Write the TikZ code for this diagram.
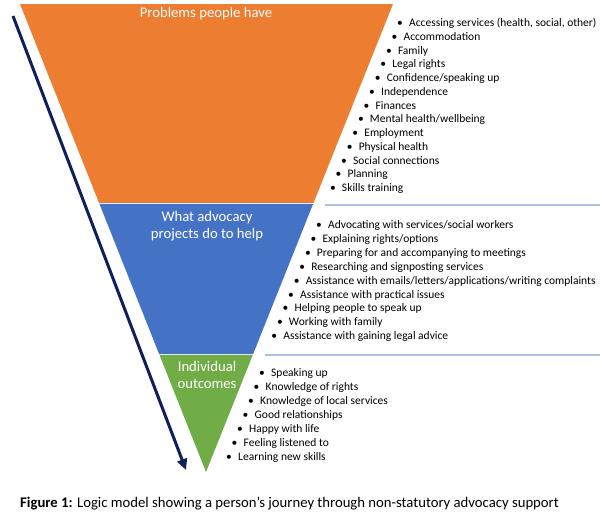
\documentclass[tikz,border=0pt]{standalone}
\usepackage{fontspec}
\setmainfont{Carlito}
\usetikzlibrary{calc,arrows.meta}
\definecolor{cOrange}{HTML}{ED7D31}
\definecolor{cBlue}{HTML}{4472C4}
\definecolor{cGreen}{HTML}{70AD47}
\definecolor{cNavy}{HTML}{0E1F5B}
\definecolor{cRule}{HTML}{A9C1E8}
\tikzset{
  seg/.style={draw=white!85!cBlue, line width=0.8pt},
  ttl/.style={text=white, font=\fontsize{14.7}{17}\selectfont, align=center, inner sep=0pt},
  item/.style={anchor=base west, inner sep=0pt, font=\fontsize{11.5}{13}\selectfont},
  sep/.style={draw=cRule, line width=1.2pt},
}
\newcommand{\bul}[1]{\makebox[12pt][l]{•}#1}
\begin{document}
\begin{tikzpicture}[x=1pt,y=-1pt]
\useasboundingbox (0,0) rectangle (602,515);
\coordinate (TL) at (20,4);
\coordinate (TR) at (393,4);
\coordinate (AP) at (206,472);
\coordinate (L1) at ($(TL)!0.425!(AP)$);
\coordinate (R1) at ($(TR)!0.425!(AP)$);
\coordinate (L2) at ($(TL)!0.748!(AP)$);
\coordinate (R2) at ($(TR)!0.748!(AP)$);
\fill[cOrange] (TL) -- (TR) -- (R1) -- (L1) -- cycle;
\fill[cBlue] (L1) -- (R1) -- (R2) -- (L2) -- cycle;
\fill[cGreen] (L2) -- (R2) -- (AP) -- cycle;
\draw[seg] (L1) -- (R1);
\draw[seg] (L2) -- (R2);
% separators
\coordinate (S1a) at (325,205);
\coordinate (S1b) at (600,205);
\coordinate (S2a) at (265,355);
\coordinate (S2b) at (600,355);
\draw[sep] (S1a) -- (S1b);
\draw[sep] (S2a) -- (S2b);
% arrow
\coordinate (AS) at (13,16);
\coordinate (AE) at (186,470);
\draw[cNavy, line width=3pt, -{Triangle[length=11pt,width=10pt]}] (AS) -- (AE);
% titles
\node[ttl] (t1) at (206,14) {Problems people have};
\node[ttl] (t2) at (207,226) {What advocacy\\projects do to help};
\node[ttl] (t3) at (207,374.5) {Individual\\outcomes};
% problems
\foreach \t [count=\i from 0] in {{Accessing services (health, social, other)},Accommodation,Family,Legal rights,Confidence/speaking up,Independence,Finances,Mental health/wellbeing,Employment,Physical health,Social connections,Planning,Skills training}{
  \node[item] (p\i) at ({397-5.6*\i},{26.5+13.75*\i}) {\bul{\t}};
}
% advocacy
\foreach \t [count=\i from 0] in {Advocating with services/social workers,Explaining rights/options,Preparing for and accompanying to meetings,Researching and signposting services,Assistance with emails/letters/applications/writing complaints,Assistance with practical issues,Helping people to speak up,Working with family,Assistance with gaining legal advice}{
  \node[item] (a\i) at ({316-5.6*\i},{228.5+13.9*\i}) {\bul{\t}};
}
% outcomes
\foreach \t [count=\i from 0] in {Speaking up,Knowledge of rights,Knowledge of local services,Good relationships,Happy with life,Feeling listened to,Learning new skills}{
  \node[item] (o\i) at ({259-5.5*\i},{376.5+14*\i}) {\bul{\t}};
}
% caption
\node[anchor=base west, inner sep=0pt, font=\fontsize{14.7}{17}\selectfont] (cap) at (20,507) {\textbf{Figure 1:} Logic model showing a person’s journey through non-statutory advocacy support};
\end{tikzpicture}
\end{document}
